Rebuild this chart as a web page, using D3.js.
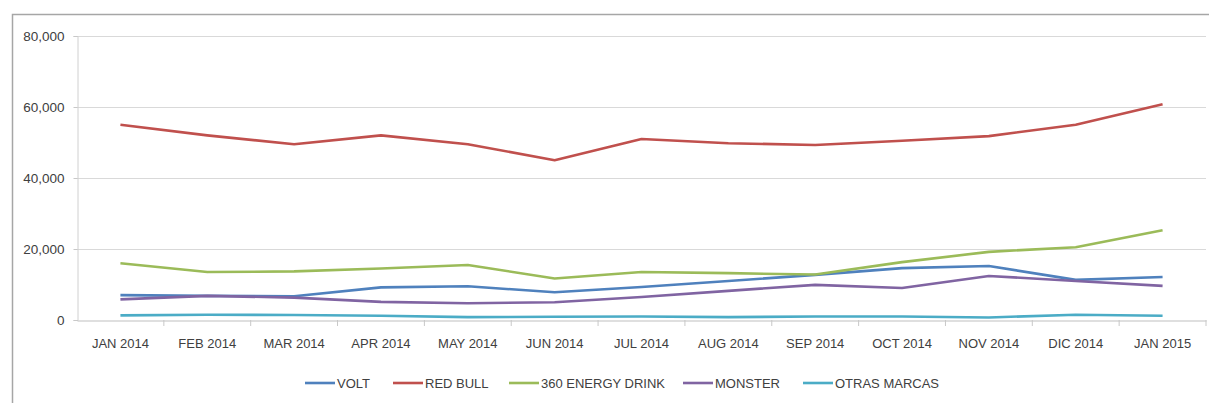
<!DOCTYPE html>
<html>
<head>
<meta charset="utf-8">
<script src="https://cdn.jsdelivr.net/npm/d3@7.9.0/dist/d3.min.js"></script>
<style>
  body { margin: 0; background: #fff; }
  svg text { font-family: "Liberation Sans", Arial, sans-serif; fill: #404040; }
</style>
</head>
<body>
<svg id="chart" width="1209" height="403"></svg>
<script>
// months on the x axis
const months = ["JAN 2014", "FEB 2014", "MAR 2014", "APR 2014", "MAY 2014", "JUN 2014",
  "JUL 2014", "AUG 2014", "SEP 2014", "OCT 2014", "NOV 2014", "DIC 2014", "JAN 2015"];

// series values
const volt     = [7000, 6800, 6700, 9200, 9500, 7800, 9300, 11000, 12700, 14600, 15200, 11300, 12100];
const redBull  = [55000, 52000, 49500, 52000, 49500, 45000, 51000, 49800, 49300, 50500, 51800, 55000, 60800];
const energy   = [16000, 13500, 13700, 14500, 15500, 11700, 13500, 13200, 12800, 16300, 19200, 20500, 25300];
const monster  = [5800, 6800, 6300, 5100, 4700, 5000, 6500, 8200, 9900, 9000, 12400, 11000, 9600];
const otras    = [1300, 1500, 1400, 1200, 800, 900, 1000, 800, 1000, 1000, 700, 1500, 1200];

const seriesNames = ["VOLT", "RED BULL", "360 ENERGY DRINK", "MONSTER", "OTRAS MARCAS"];
const seriesValues = [volt, redBull, energy, monster, otras];
const seriesColors = ["#4F81BD", "#C0504D", "#9BBB59", "#8064A2", "#4BACC6"];
const yTicks = [0, 20000, 40000, 60000, 80000];

const svg = d3.select("#chart");

// outer chart frame (top and left edges visible)
svg.append("path")
  .attr("d", "M12.5,403 V14.5 H1209")
  .attr("fill", "none").attr("stroke", "#a6a6a6").attr("stroke-width", 1.5);

const x = d3.scaleBand().domain(months).range([77, 1206]);
const y = d3.scaleLinear().domain([0, 80000]).range([320, 36]);

// gridlines
svg.append("g").selectAll("line").data(yTicks.slice(1)).join("line")
  .attr("x1", 77).attr("x2", 1206)
  .attr("y1", d => Math.round(y(d)) + 0.5).attr("y2", d => Math.round(y(d)) + 0.5)
  .attr("stroke", "#d9d9d9").attr("stroke-width", 1.2);

// y axis
const yAxis = svg.append("g").attr("transform", "translate(77.5,0)")
  .call(d3.axisLeft(y).tickValues(yTicks).tickSize(4).tickPadding(9).tickFormat(d3.format(",")));
yAxis.select(".domain").attr("stroke", "#d0d0d0");
yAxis.selectAll(".tick line").attr("stroke", "#c8c8c8");
yAxis.selectAll("text").attr("font-size", 13.5);

// x axis with ticks between categories
const xAxis = svg.append("g").attr("transform", "translate(0,320.5)")
  .call(d3.axisBottom(x).tickSize(0).tickPadding(18));
xAxis.select(".domain").attr("stroke", "#bfbfbf").attr("stroke-width", 1.2);
xAxis.selectAll("text").attr("font-size", 13);
svg.append("g").selectAll("line").data(months).join("line")
  .attr("x1", (d, i) => 77 + x.step() * (i + 1)).attr("x2", (d, i) => 77 + x.step() * (i + 1))
  .attr("y1", 320).attr("y2", 326)
  .attr("stroke", "#c8c8c8");

// lines
const line = d3.line()
  .x((d, i) => x(months[i]) + x.bandwidth() / 2)
  .y(d => y(d));

svg.append("g").selectAll("path").data(seriesValues).join("path")
  .attr("d", d => line(d))
  .attr("fill", "none")
  .attr("stroke", (d, i) => seriesColors[i])
  .attr("stroke-width", 2.6)
  .attr("stroke-linejoin", "round");

// legend
const legendX = [305, 393, 509, 683, 803];
const legend = svg.append("g").selectAll("g").data(seriesNames).join("g")
  .attr("transform", (d, i) => `translate(${legendX[i]},383)`);
legend.append("line")
  .attr("x1", 0).attr("x2", 30).attr("y1", 0).attr("y2", 0)
  .attr("stroke", (d, i) => seriesColors[i]).attr("stroke-width", 2.6);
legend.append("text")
  .attr("x", 32).attr("y", 5)
  .attr("font-size", 13)
  .text(d => d);
</script>
</body>
</html>
